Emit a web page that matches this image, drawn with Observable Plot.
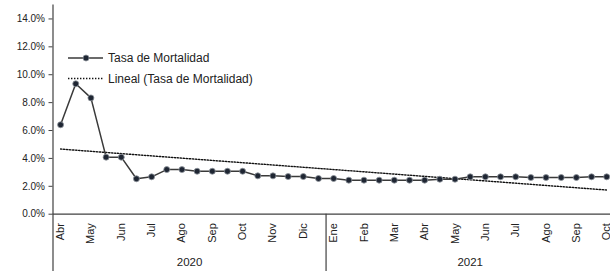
<!DOCTYPE html>
<html>
<head>
<meta charset="utf-8">
<script src="https://cdn.jsdelivr.net/npm/d3@7"></script>
<script src="https://cdn.jsdelivr.net/npm/@observablehq/plot@0.6"></script>
<style>
  html, body { margin: 0; padding: 0; background: #fff; }
  #chart svg { display: block; }
</style>
</head>
<body>
<div id="chart"></div>
<script>
// Month tick labels (shown on the first half of each month)
const monthLabels = ["Abr","May","Jun","Jul","Ago","Sep","Oct","Nov","Dic","Ene","Feb","Mar","Abr","May","Jun","Jul","Ago","Sep","Oct"];
const yearLabels = ["2020", "2021"];
// category index where each year group starts / ends
const yearStart = [0, 18];
const yearEnd = [17, 36];
// Mortality rate (%), two readings per month, Abr 2020 – Oct 2021
const tasa = [6.41, 9.35, 8.34, 4.09, 4.09, 2.54, 2.68, 3.20, 3.20, 3.08,
              3.08, 3.08, 3.08, 2.75, 2.75, 2.70, 2.70, 2.56, 2.56, 2.44,
              2.44, 2.44, 2.44, 2.44, 2.44, 2.51, 2.51, 2.68, 2.68, 2.68,
              2.68, 2.63, 2.63, 2.63, 2.63, 2.68, 2.68];
const yTicks = [0, 0.02, 0.04, 0.06, 0.08, 0.10, 0.12, 0.14];

const data = tasa.map((v, i) => ({i, v: v / 100}));
const monthTicks = monthLabels.map((_, k) => k * 2);
const years = yearLabels.map((t, k) => ({t, x: (yearStart[k] + yearEnd[k]) / 2}));
const bounds = [-0.5, (yearEnd[0] + yearStart[1]) / 2];

const ink = "#404040";
const H = 271, W = 610;
const mL = 52.5, mT = 4.5, mB = 57.3;

const chart = Plot.plot({
  width: W,
  height: H,
  marginLeft: mL,
  marginRight: 0,
  marginTop: mT,
  marginBottom: mB,
  style: {fontFamily: "Liberation Sans, Arial, sans-serif", background: "#fff", color: ink},
  x: {type: "linear", domain: [-0.5, 36.25], axis: null},
  y: {type: "linear", domain: [0, 0.15], axis: null},
  marks: [
    Plot.axisY({ticks: yTicks, tickFormat: d3.format(".1%"), tickSize: 4, tickPadding: 4, fontSize: 10, stroke: ink, fill: "#222", label: null}),
    Plot.axisX({ticks: monthTicks, tickFormat: i => monthLabels[i / 2], tickRotate: -90, tickSize: 0, tickPadding: 9, fontSize: 11, fill: "#222", label: null}),
    Plot.ruleY([0], {stroke: ink, strokeWidth: 1.2}),
    Plot.ruleX(bounds, {y1: 0.15, y2: -0.042, stroke: ink, strokeWidth: 1.2, clip: false, filter: d => d === -0.5}),
    Plot.ruleX(bounds, {y1: 0, y2: -0.042, stroke: ink, strokeWidth: 1.2, clip: false, filter: d => d !== -0.5}),
    Plot.text(years, {x: "x", text: "t", frameAnchor: "bottom", dy: 52, fontSize: 11.5, fill: "#222"}),
    Plot.linearRegressionY(data, {x: "i", y: "v", ci: 0, stroke: "#111", strokeWidth: 1.4, strokeDasharray: "1.4 1.6"}),
    Plot.line(data, {x: "i", y: "v", stroke: "#3a3a3a", strokeWidth: 1.5}),
    Plot.dot(data, {x: "i", y: "v", r: 3, fill: "#1f2633", stroke: "#8e949c", strokeWidth: 0.8})
  ]
});

// Legend inside the plot area (top-left)
const svg = d3.select(chart);
const lg = svg.append("g")
  .attr("font-family", "Liberation Sans, Arial, sans-serif")
  .attr("font-size", 12)
  .attr("text-anchor", "start")
  .attr("fill", "#222");
lg.append("line").attr("x1", 68).attr("x2", 103).attr("y1", 58).attr("y2", 58).attr("stroke", "#3a3a3a").attr("stroke-width", 1.5);
lg.append("circle").attr("cx", 86).attr("cy", 58).attr("r", 3).attr("fill", "#1f2633").attr("stroke", "#8e949c").attr("stroke-width", 0.8);
lg.append("text").attr("x", 108).attr("y", 58).attr("dy", "0.35em").attr("text-anchor", "start").text("Tasa de Mortalidad");
lg.append("line").attr("x1", 68).attr("x2", 103).attr("y1", 78.5).attr("y2", 78.5).attr("stroke", "#111").attr("stroke-width", 1.4).attr("stroke-dasharray", "1.4 1.6");
lg.append("text").attr("x", 108).attr("y", 78.5).attr("dy", "0.35em").attr("text-anchor", "start").text("Lineal (Tasa de Mortalidad)");

document.getElementById("chart").appendChild(chart);
</script>
</body>
</html>
